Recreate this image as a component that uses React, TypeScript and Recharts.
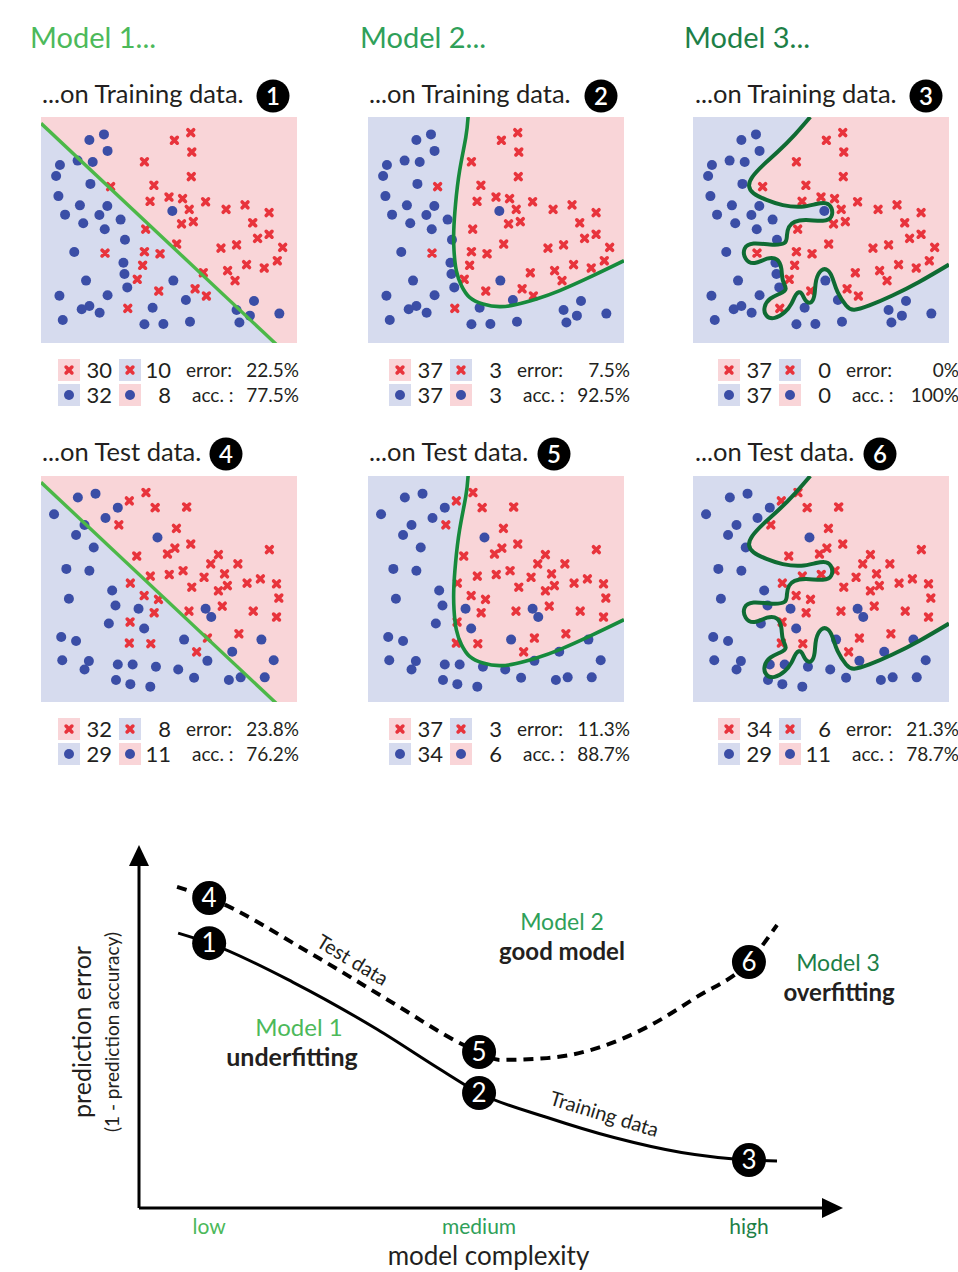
import React from "react";
import { ComposedChart, Scatter, Line, Area, XAxis, YAxis, CartesianGrid } from "recharts";

const FONT = "Lato, 'Open Sans', sans-serif";
const INK = "#231f20";
const BLUE_BG = "#d6dbee";
const PINK_BG = "#f9d5d8";
const DOT = "#3b4ea6";
const CROSS = "#e8343c";

type P = [number, number];

// training set, feature space 0..100
const trainBlue: P[] = [
  [18.9, 89.8], [24.6, 92.3], [26.0, 85.0], [14.3, 80.7], [20.2, 80.1], [7.4, 78.8], [5.9, 73.9], [19.3, 70.4],
  [6.8, 65.0], [15.2, 60.9], [25.9, 60.6], [9.4, 56.8], [22.8, 56.6], [16.5, 53.0], [31.1, 54.6], [24.9, 50.3],
  [32.8, 45.7], [51.3, 58.4], [13.0, 40.3], [32.2, 35.5], [32.6, 30.5], [17.6, 27.6], [33.7, 24.6], [51.7, 27.6],
  [7.2, 20.9], [26.0, 21.1], [56.6, 19.0], [83.2, 18.6], [18.9, 16.4], [15.9, 14.9], [22.9, 13.4], [43.6, 15.6],
  [76.4, 14.6], [81.6, 12.1], [93.1, 13.0], [8.5, 10.2], [40.4, 8.3], [47.8, 8.4], [58.2, 9.4], [77.5, 9.1],
];
const trainRed: P[] = [
  [58.5, 93.1], [52.1, 89.7], [58.9, 84.5], [40.4, 80.2], [58.7, 73.6], [27.2, 69.2], [44.1, 69.8], [50.0, 64.6],
  [55.3, 63.9], [42.6, 62.7], [64.3, 62.5], [57.9, 59.1], [72.3, 59.1], [79.7, 61.1], [89.1, 57.7], [54.9, 52.7],
  [59.5, 53.7], [82.7, 53.2], [40.9, 50.4], [89.1, 48.1], [84.6, 46.3], [53.0, 43.8], [70.3, 42.0], [76.4, 43.4],
  [94.4, 42.3], [25.0, 39.8], [40.4, 40.4], [46.5, 39.5], [39.7, 34.4], [80.3, 34.7], [92.3, 36.4], [87.2, 33.2],
  [72.9, 32.0], [63.4, 31.1], [37.6, 28.2], [75.8, 27.6], [60.2, 24.0], [46.0, 23.0], [64.6, 20.8], [33.9, 15.3],
];

// test set
const testBlue: P[] = [
  [5.1, 83.1], [14.4, 90.5], [21.3, 92.2], [30.0, 86.0], [25.2, 81.4], [17.0, 78.3], [13.7, 73.9], [20.6, 68.4],
  [45.5, 72.8], [9.9, 58.9], [18.9, 58.1], [27.8, 49.3], [10.9, 45.7], [29.1, 42.7], [38.1, 41.3], [64.3, 41.3],
  [66.5, 37.6], [26.5, 34.7], [40.3, 32.5], [7.9, 28.8], [13.7, 27.0], [55.9, 27.6], [86.1, 27.6], [74.7, 22.2],
  [8.3, 18.5], [18.7, 18.1], [17.0, 14.4], [30.0, 16.6], [35.8, 16.6], [44.9, 15.6], [53.6, 14.4], [65.0, 18.2],
  [90.9, 18.5], [29.3, 9.7], [34.9, 7.9], [42.7, 6.8], [59.8, 10.7], [73.4, 9.7], [78.0, 10.9], [87.4, 10.9],
];
const testRed: P[] = [
  [41.0, 92.7], [34.5, 89.0], [44.6, 86.0], [56.9, 86.3], [30.4, 78.4], [52.9, 76.8], [58.5, 69.9], [52.3, 68.1],
  [49.4, 65.5], [37.4, 64.6], [89.2, 67.4], [69.3, 65.2], [66.3, 61.1], [76.9, 61.1], [55.5, 58.1], [50.1, 56.4],
  [42.7, 55.7], [71.7, 56.7], [63.7, 55.2], [34.9, 52.6], [58.9, 50.8], [72.8, 51.5], [69.3, 49.2], [80.5, 52.6],
  [85.7, 54.5], [92.0, 52.3], [40.3, 47.1], [45.9, 45.4], [92.9, 46.0], [44.2, 39.5], [57.8, 40.2], [70.8, 42.4],
  [82.9, 40.2], [92.0, 37.6], [34.8, 35.4], [65.0, 28.3], [77.3, 30.2], [34.5, 26.1], [42.9, 25.8], [60.8, 22.2],
];

// decision boundaries of the three models
const linearBoundary: P[] = [[0, 97.2], [100, -9.2]];
const smoothBoundary: P[] = [
  [39.1, 100], [38.2, 91.0], [35.8, 76.3], [34.2, 61.5], [33.5, 49.7], [33.6, 40.9], [34.5, 32.0], [36.5, 25.4],
  [39.7, 20.2], [44.9, 17.3], [51.4, 16.1], [57.9, 17.0], [65.8, 19.5], [74.9, 23.2], [87.9, 29.8], [100, 36.4],
];
const wigglyBoundary: P[] = [
  [45.8, 100], [39.7, 92.1], [33.2, 84.7], [27.4, 78.7], [23.2, 73.5], [21.9, 69.5], [23.7, 66.2], [28.7, 63.3],
  [35.1, 61.0], [42.3, 60.3], [48.1, 61.5], [52.0, 61.8], [54.1, 59.6], [54.0, 55.9], [50.7, 54.1], [44.2, 54.4],
  [39.7, 53.6], [37.5, 51.4], [36.7, 47.7], [35.6, 44.2], [30.0, 43.6], [23.7, 44.0], [20.2, 41.8], [20.6, 37.3],
  [24.1, 35.4], [28.9, 37.3], [32.8, 36.9], [34.5, 32.9], [35.1, 27.7], [36.2, 24.0], [33.9, 21.8], [30.2, 19.6],
  [28.0, 15.9], [28.7, 12.1], [31.9, 11.1], [35.8, 13.6], [38.4, 17.3], [40.3, 21.5], [42.3, 22.1], [44.0, 18.8],
  [46.2, 18.1], [47.5, 21.8], [48.1, 27.7], [50.1, 32.1], [52.7, 32.1], [54.6, 28.4], [56.5, 22.5], [59.8, 16.6],
  [63.0, 14.7], [68.9, 16.6], [77.9, 21.0], [88.3, 27.0], [100, 34.7],
];

// confusion tables, panels 1..6
const crossCounts = [[30, 10], [37, 3], [37, 0], [32, 8], [37, 3], [34, 6]];
const dotCounts = [[32, 8], [37, 3], [37, 0], [29, 11], [34, 6], [29, 11]];
const errorRates = ["22.5%", "7.5%", "0%", "23.8%", "11.3%", "21.3%"];
const accuracies = ["77.5%", "92.5%", "100%", "76.2%", "88.7%", "78.7%"];

// bottom chart: error vs model complexity
const levels = [1, 2, 3];
const levelNames = ["low", "medium", "high"];
const trainingCurve = [
  { x: 0.885, y: 77.2 }, { x: 1, y: 74.4, n: 1 }, { x: 1.311, y: 63.4 }, { x: 1.622, y: 50.2 },
  { x: 1.867, y: 38.4 }, { x: 2, y: 32.3, n: 2 }, { x: 2.25, y: 25.5 }, { x: 2.5, y: 19.8 },
  { x: 2.75, y: 15.6 }, { x: 3, y: 13.5, n: 3 }, { x: 3.104, y: 13.2 },
];
const testCurve = [
  { x: 0.881, y: 90.2 }, { x: 1, y: 87.1, n: 4 }, { x: 1.374, y: 71.6 }, { x: 1.681, y: 57.6 },
  { x: 1.93, y: 46.3 }, { x: 2, y: 43.8, n: 5 }, { x: 2.078, y: 41.6 }, { x: 2.252, y: 42.1 },
  { x: 2.437, y: 44.9 }, { x: 2.622, y: 50.8 }, { x: 2.807, y: 59.3 }, { x: 3, y: 69.1, n: 6 },
  { x: 3.104, y: 79.5 },
];

const pts = (a: P[]) => a.map(([x, y]) => ({ x, y }));

const GREENS = ["#4cb95a", "#2fa059", "#1d7f47"];

function CrossMark({ cx, cy }: { cx: number; cy: number }) {
  const a = 2.9;
  return (
    <path
      d={`M${cx - a},${cy - a}L${cx + a},${cy + a}M${cx + a},${cy - a}L${cx - a},${cy + a}`}
      stroke={CROSS}
      strokeWidth={3.6}
      strokeLinecap="round"
      fill="none"
    />
  );
}

const DotShape = (p: any) => <circle cx={p.cx} cy={p.cy} r={5} fill={DOT} />;
const CrossShape = (p: any) => <CrossMark cx={p.cx} cy={p.cy} />;

type PanelProps = {
  left: number;
  top: number;
  blue: P[];
  red: P[];
  boundary: P[];
  curve: "linear" | "natural";
  color: string;
  width: number;
};

function Panel({ left, top, blue, red, boundary, curve, color, width }: PanelProps) {
  const edge = pts(boundary);
  return (
    <div style={{ position: "absolute", left, top }}>
      <ComposedChart width={256} height={226} margin={{ top: 0, right: 0, bottom: 0, left: 0 }}>
        <CartesianGrid fill={BLUE_BG} fillOpacity={1} stroke="none" horizontal={false} vertical={false} />
        <XAxis type="number" dataKey="x" domain={[0, 100]} allowDataOverflow hide />
        <YAxis type="number" dataKey="y" domain={[0, 100]} allowDataOverflow hide />
        <Area
          data={edge}
          dataKey="y"
          type={curve}
          baseValue={100}
          fill={PINK_BG}
          fillOpacity={1}
          stroke="none"
          isAnimationActive={false}
        />
        <Scatter data={pts(blue)} shape={DotShape} isAnimationActive={false} />
        <Scatter data={pts(red)} shape={CrossShape} isAnimationActive={false} />
        <Line
          data={edge}
          dataKey="y"
          type={curve}
          stroke={color}
          strokeWidth={width}
          dot={false}
          activeDot={false}
          isAnimationActive={false}
          zIndex={700}
        />
      </ComposedChart>
    </div>
  );
}

function Badge({ cx, cy, n, r = 16.5, size = 24 }: { cx: number; cy: number; n: number; r?: number; size?: number }) {
  return (
    <g>
      <circle cx={cx} cy={cy} r={r} fill="#000" />
      <text x={cx} y={cy + size * 0.36} textAnchor="middle" fill="#fff" fontSize={size} fontWeight={600}>
        {n}
      </text>
    </g>
  );
}

function StatsTable({ i, x, y }: { i: number; x: number; y: number }) {
  const [c1, c2] = crossCounts[i];
  const [d1, d2] = dotCounts[i];
  const y2 = y + 25;
  return (
    <g fill={INK}>
      <rect x={x} y={y} width={22} height={22} fill={PINK_BG} />
      <CrossMark cx={x + 11} cy={y + 11} />
      <text x={x + 54} y={y + 19} textAnchor="end" fontSize={22}>{c1}</text>
      <rect x={x + 61} y={y} width={22} height={22} fill={BLUE_BG} />
      <CrossMark cx={x + 72} cy={y + 11} />
      <text x={x + 113} y={y + 19} textAnchor="end" fontSize={22}>{c2}</text>
      <text x={x + 128} y={y + 18} fontSize={19}>error:</text>
      <text x={x + 241} y={y + 18} textAnchor="end" fontSize={19}>{errorRates[i]}</text>

      <rect x={x} y={y2} width={22} height={22} fill={BLUE_BG} />
      <circle cx={x + 11} cy={y2 + 11} r={5} fill={DOT} />
      <text x={x + 54} y={y2 + 19} textAnchor="end" fontSize={22}>{d1}</text>
      <rect x={x + 61} y={y2} width={22} height={22} fill={PINK_BG} />
      <circle cx={x + 72} cy={y2 + 11} r={5} fill={DOT} />
      <text x={x + 113} y={y2 + 19} textAnchor="end" fontSize={22}>{d2}</text>
      <text x={x + 134} y={y2 + 18} fontSize={19}>acc. :</text>
      <text x={x + 241} y={y2 + 18} textAnchor="end" fontSize={19}>{accuracies[i]}</text>
    </g>
  );
}

const Marker = (p: any) => {
  if (!p.payload || !p.payload.n) return <g key={p.index} />;
  return (
    <g key={p.index}>
      <circle cx={p.cx} cy={p.cy} r={17} fill="#000" />
      <text x={p.cx} y={p.cy + 9} textAnchor="middle" fill="#fff" fontSize={26} fontFamily={FONT}>
        {p.payload.n}
      </text>
    </g>
  );
};

const LevelTick = (p: any) => {
  const i = levels.indexOf(p.payload.value);
  return (
    <text x={p.x} y={p.y + 18} textAnchor="middle" fill={GREENS[i]} fontSize={21} fontFamily={FONT}>
      {levelNames[i]}
    </text>
  );
};

const colX = [41, 368, 693];
const rowY = [117, 476];
const tableX = [58, 389, 718];
const boundaries: { b: P[]; curve: "linear" | "natural"; color: string; width: number }[] = [
  { b: linearBoundary, curve: "linear", color: "#4cb848", width: 3.4 },
  { b: smoothBoundary, curve: "natural", color: "#168a3c", width: 3.6 },
  { b: wigglyBoundary, curve: "natural", color: "#0f6b33", width: 4 },
];

export default function App() {
  return (
    <div
      style={{
        position: "absolute",
        left: 0,
        top: 0,
        width: 958,
        height: 1272,
        background: "#fff",
        overflow: "hidden",
        fontFamily: FONT,
      }}
    >
      {[0, 1].map((row) =>
        boundaries.map((m, col) => (
          <Panel
            key={`${row}-${col}`}
            left={colX[col]}
            top={rowY[row]}
            blue={row === 0 ? trainBlue : testBlue}
            red={row === 0 ? trainRed : testRed}
            boundary={m.b}
            curve={m.curve}
            color={m.color}
            width={m.width}
          />
        ))
      )}

      <div style={{ position: "absolute", left: 0, top: 820 }}>
        <ComposedChart width={958} height={452} margin={{ top: 32, right: 120, bottom: 2, left: 79 }}>
          <XAxis
            type="number"
            dataKey="x"
            domain={[0.74, 3.33]}
            ticks={levels}
            tick={LevelTick}
            tickLine={false}
            axisLine={{ stroke: "#000", strokeWidth: 3 }}
            height={62}
            label={{ value: "model complexity", position: "insideBottom", offset: 5, fill: INK, fontSize: 26, fontFamily: FONT }}
          />
          <YAxis
            type="number"
            domain={[0, 100]}
            width={60}
            tick={false}
            tickLine={false}
            axisLine={{ stroke: "#000", strokeWidth: 3 }}
          />
          <Line
            data={testCurve}
            dataKey="y"
            type="monotone"
            stroke="#000"
            strokeWidth={4}
            strokeDasharray="10 7"
            dot={Marker}
            activeDot={false}
            isAnimationActive={false}
          />
          <Line
            data={trainingCurve}
            dataKey="y"
            type="monotone"
            stroke="#000"
            strokeWidth={3}
            dot={Marker}
            activeDot={false}
            isAnimationActive={false}
          />
        </ComposedChart>
      </div>

      <svg
        width={958}
        height={1272}
        style={{ position: "absolute", left: 0, top: 0, pointerEvents: "none" }}
        fontFamily={FONT}
      >
        {["Model 1...", "Model 2...", "Model 3..."].map((t, i) => (
          <text key={t} x={[30, 360, 684][i]} y={48} fontSize={29} fill={GREENS[i]}>
            {t}
          </text>
        ))}
        {[0, 1].map((row) =>
          [0, 1, 2].map((col) => (
            <g key={`s${row}${col}`}>
              <text x={[42, 369, 695][col]} y={row === 0 ? 103 : 461} fontSize={25.5} fill={INK}>
                {row === 0 ? "...on Training data." : "...on Test data."}
              </text>
              <Badge
                cx={row === 0 ? [273, 601, 926][col] : [226, 554, 880][col]}
                cy={row === 0 ? 96 : 454}
                n={row * 3 + col + 1}
              />
              <StatsTable i={row * 3 + col} x={tableX[col]} y={row === 0 ? 359 : 718} />
            </g>
          ))
        )}

        {/* axis arrowheads */}
        <polygon points="139,845 129,866 149,866" fill="#000" />
        <polygon points="843,1208 822,1198 822,1218" fill="#000" />

        <text transform="translate(83,1032) rotate(-90)" textAnchor="middle" fontSize={25} fill={INK} y={8}>
          prediction error
        </text>
        <text transform="translate(113,1032) rotate(-90)" textAnchor="middle" fontSize={19} fill={INK} y={6}>
          (1 - prediction accuracy)
        </text>

        <text transform="translate(352,961) rotate(31)" textAnchor="middle" fontSize={20} fill={INK} y={6}>
          Test data
        </text>
        <text transform="translate(604,1115) rotate(17)" textAnchor="middle" fontSize={20} fill={INK} y={6}>
          Training data
        </text>

        <text x={299} y={1036} textAnchor="middle" fontSize={24} fill={GREENS[0]}>Model 1</text>
        <text x={292} y={1066} textAnchor="middle" fontSize={25} fontWeight={700} fill={INK}>underfitting</text>
        <text x={562} y={930} textAnchor="middle" fontSize={23} fill={GREENS[1]}>Model 2</text>
        <text x={562} y={960} textAnchor="middle" fontSize={24} fontWeight={700} fill={INK}>good model</text>
        <text x={838} y={971} textAnchor="middle" fontSize={23} fill={GREENS[2]}>Model 3</text>
        <text x={839} y={1001} textAnchor="middle" fontSize={24} fontWeight={700} fill={INK}>overfitting</text>
      </svg>
    </div>
  );
}
